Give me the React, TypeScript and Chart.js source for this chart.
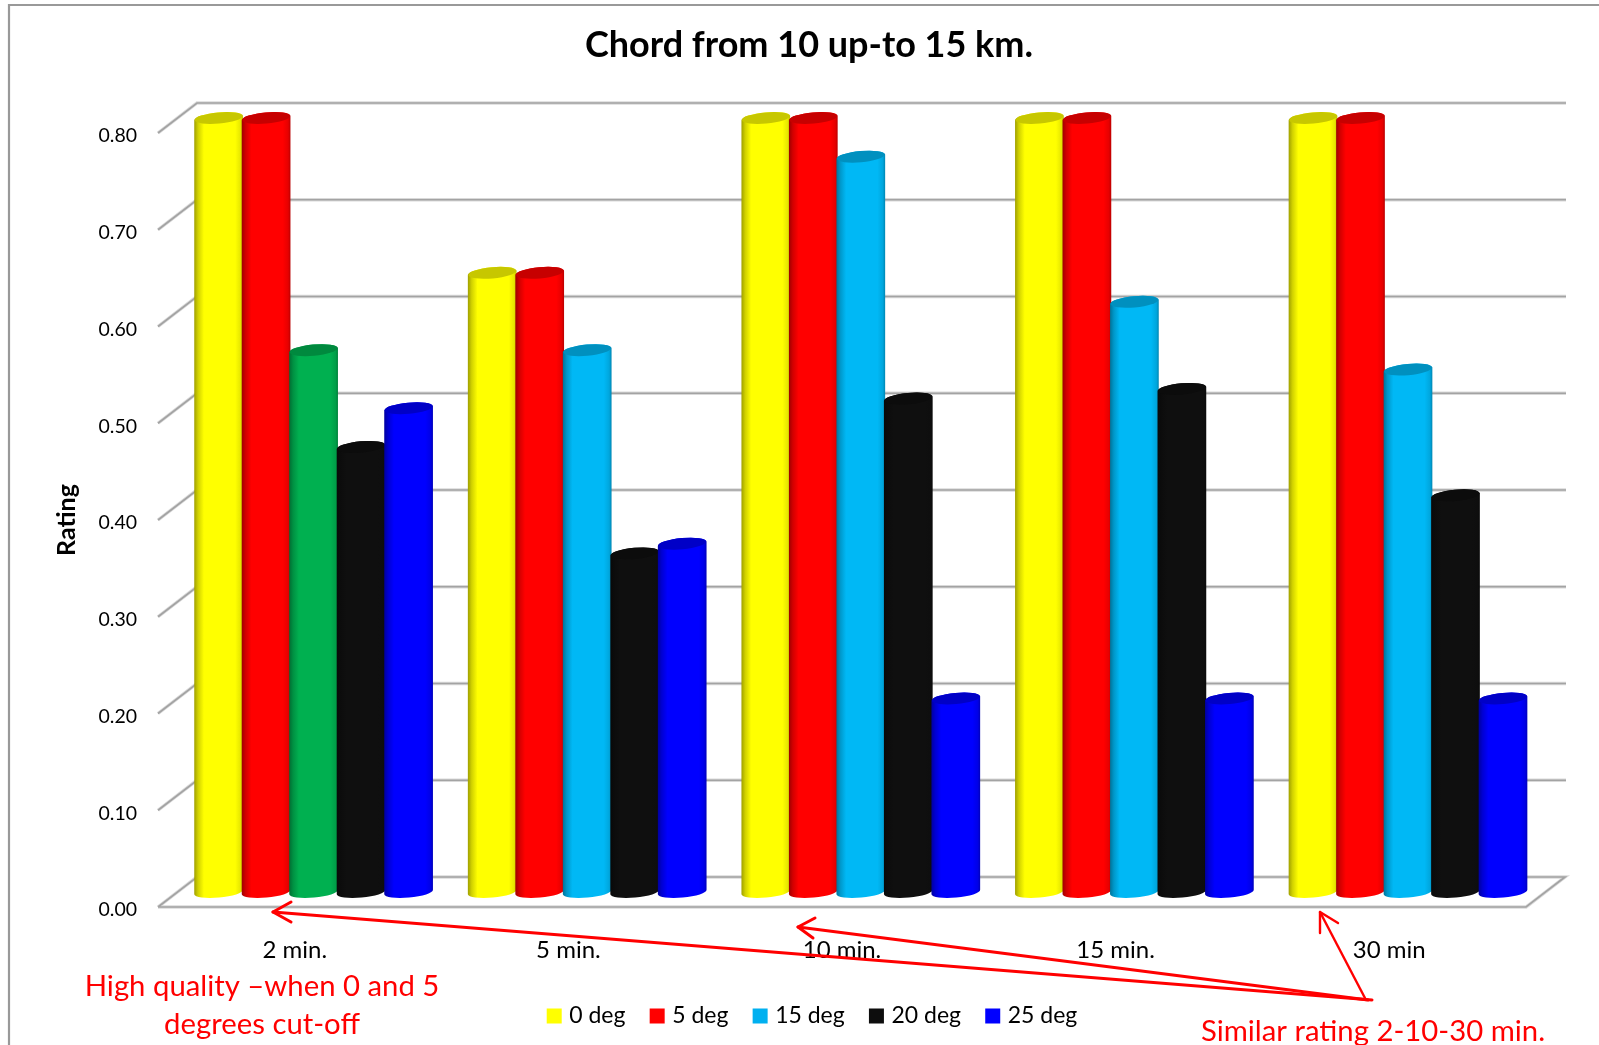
import React, { useEffect, useRef } from "react";
import { Chart, registerables } from "chart.js";

Chart.register(...registerables);

const categories = ["2 min.", "5 min.", "10 min.", "15 min.", "30 min"];
const seriesNames = ["0 deg", "5 deg", "15 deg", "20 deg", "25 deg"];
const deg0 = [0.8, 0.64, 0.8, 0.8, 0.8];
const deg5 = [0.8, 0.64, 0.8, 0.8, 0.8];
const deg15 = [0.56, 0.56, 0.76, 0.61, 0.54];
const deg20 = [0.46, 0.35, 0.51, 0.52, 0.41];
const deg25 = [0.5, 0.36, 0.2, 0.2, 0.2];
const seriesValues = [deg0, deg5, deg15, deg20, deg25];
const seriesColors = ["#ffff00", "#ff0000", "#00b8f5", "#0f0f0f", "#0000ff"];
const legendColors = ["#ffff00", "#ff0000", "#00b0f0", "#0d0d0d", "#0000ff"];
const deg15Colors = ["#00b050", "#00b8f5", "#00b8f5", "#00b8f5", "#00b8f5"];

const FONT = "Lato, 'Open Sans', sans-serif";
const DEPTH_X = 39;
const DEPTH_Y = -30;
const GRID = "#a3a3a3";
const RED = "#ff0000";

function shade(hex: string, f: number) {
  const n = parseInt(hex.slice(1), 16);
  const r = Math.round(((n >> 16) & 255) * f);
  const g = Math.round(((n >> 8) & 255) * f);
  const b = Math.round((n & 255) * f);
  return `rgb(${r},${g},${b})`;
}

function line(ctx: CanvasRenderingContext2D, pts: number[][], color: string, w: number) {
  ctx.beginPath();
  pts.forEach((p, i) => (i ? ctx.lineTo(p[0], p[1]) : ctx.moveTo(p[0], p[1])));
  ctx.strokeStyle = color;
  ctx.lineWidth = w;
  ctx.stroke();
}

function drawCylinder(ctx: CanvasRenderingContext2D, el: any, color: string) {
  const dx = DEPTH_X / 2 - 0.7;
  const dy = DEPTH_Y / 2;
  const cx = el.x + dx;
  const rx = el.width / 2 + 0.7;
  const ry = 5.6;
  const rot = -0.09;
  const top = el.y + dy;
  const bot = el.base + dy;
  const left = cx - rx;
  const grad = ctx.createLinearGradient(left, 0, left + 2 * rx, 0);
  grad.addColorStop(0, shade(color, 0.62));
  grad.addColorStop(0.08, shade(color, 0.82));
  grad.addColorStop(0.2, shade(color, 1));
  grad.addColorStop(0.84, shade(color, 1));
  grad.addColorStop(0.95, shade(color, 0.9));
  grad.addColorStop(1, shade(color, 0.72));
  ctx.beginPath();
  ctx.ellipse(cx, bot, rx, ry, rot, Math.PI, 0, true);
  ctx.ellipse(cx, top, rx, ry, rot, 0, Math.PI, true);
  ctx.closePath();
  ctx.fillStyle = grad;
  ctx.fill();
  ctx.beginPath();
  ctx.ellipse(cx, top, rx - 0.5, ry, rot, 0, Math.PI * 2);
  ctx.fillStyle = shade(color, 0.78);
  ctx.fill();
}

function arrowHead(ctx: CanvasRenderingContext2D, a: number[], tip: number[], b: number[], w: number) {
  line(ctx, [a, tip, b], RED, w);
}

const threeD = {
  id: "threeD",
  beforeDraw(chart: any) {
    const { ctx } = chart;
    ctx.save();
    line(ctx, [[9, 1045], [9, 5], [1599, 5]], "#999999", 2.2);
    ctx.restore();
  },
  beforeDatasetsDraw(chart: any) {
    const { ctx, chartArea, scales } = chart;
    const y = scales.y;
    ctx.save();
    ctx.lineCap = "butt";
    y.ticks.forEach((t: any) => {
      const py = y.getPixelForValue(t.value);
      const bx = chartArea.left + DEPTH_X;
      const by = py + DEPTH_Y;
      const pts =
        t.value === 0
          ? [
              [chartArea.left, py],
              [bx, by],
              [chartArea.right + DEPTH_X, by],
              [chartArea.right, py],
              [chartArea.left, py],
            ]
          : [
              [chartArea.left, py],
              [bx, by],
              [chartArea.right + DEPTH_X + 1, by],
            ];
      line(ctx, pts, "rgba(170,170,170,0.45)", 3.4);
      line(ctx, pts, GRID, 1.7);
    });
    // cylinders: left to right, each overlapping its left neighbour
    chart.data.datasets.forEach((ds: any, i: number) => {
      const meta = chart.getDatasetMeta(i);
      meta.data.forEach((el: any, j: number) => {
        const c = Array.isArray(ds.backgroundColor) ? ds.backgroundColor[j] : ds.backgroundColor;
        drawCylinder(ctx, el, c);
      });
    });
    ctx.restore();
    return false;
  },
  afterLayout(chart: any) {
    const shiftT = 809 - (chart.titleBlock.left + chart.titleBlock.right) / 2;
    chart.titleBlock.left += shiftT;
    chart.titleBlock.right += shiftT;
    const shiftL = 814 - (chart.legend.left + chart.legend.right) / 2;
    chart.legend.left += shiftL;
    chart.legend.right += shiftL;
  },
  afterDraw(chart: any) {
    const { ctx } = chart;
    ctx.save();
    ctx.lineJoin = "round";
    ctx.lineCap = "round";
    // annotation leaders
    line(ctx, [[1372, 1000], [273, 912]], RED, 3);
    arrowHead(ctx, [291, 902], [273, 912], [291, 922], 3);
    line(ctx, [[1368, 1000], [798, 927]], RED, 3);
    arrowHead(ctx, [815, 918], [798, 927], [813, 938], 3);
    line(ctx, [[1366, 1000], [1320, 912]], RED, 2.4);
    arrowHead(ctx, [1320, 933], [1320, 912], [1338, 923], 2.4);
    // annotation text
    ctx.fillStyle = RED;
    ctx.textBaseline = "middle";
    ctx.textAlign = "center";
    ctx.font = `29.3px ${FONT}`;
    ctx.fillText("High quality –when 0 and 5", 262, 987);
    ctx.fillText("degrees cut-off", 262, 1025);
    ctx.fillText("Similar rating 2-10-30 min.", 1373, 1032);
    ctx.restore();
  },
};

export default function App() {
  const ref = useRef<HTMLCanvasElement>(null);
  useEffect(() => {
    document.body.style.margin = "0";
    document.body.style.background = "#ffffff";
    const chart = new Chart(ref.current as HTMLCanvasElement, {
      type: "bar",
      data: {
        labels: categories,
        datasets: seriesNames.map((label, i) => ({
          label,
          data: seriesValues[i],
          backgroundColor: i === 2 ? deg15Colors : seriesColors[i],
          barPercentage: 1,
          categoryPercentage: 0.868,
        })),
      },
      options: {
        responsive: false,
        animation: false,
        devicePixelRatio: 1,
        layout: { padding: { left: 50, right: 73, top: 24, bottom: 7.5 } },
        plugins: {
          tooltip: { enabled: false },
          title: {
            display: true,
            text: "Chord from 10 up-to 15 km.",
            color: "#000000",
            font: { family: FONT, size: 36, weight: "bold" },
            padding: { top: 0, bottom: 65.8 },
          },
          legend: {
            display: true,
            position: "bottom",
            labels: {
              color: "#000000",
              font: { family: FONT, size: 23 },
              boxWidth: 7,
              boxHeight: 7,
              padding: 28.25,
              generateLabels: () =>
                seriesNames.map((text, i) => ({
                  text,
                  fillStyle: legendColors[i],
                  strokeStyle: legendColors[i],
                  lineWidth: 8,
                  fontColor: "#000000",
                  datasetIndex: i,
                })),
            },
          },
        },
        scales: {
          x: {
            grid: { display: false, drawTicks: false },
            border: { display: false },
            ticks: { color: "#000000", font: { family: FONT, size: 24 }, padding: 29, maxRotation: 0 },
            afterFit: (s: any) => {
              s.height = 69.25;
            },
          },
          y: {
            min: 0,
            max: 0.8,
            grid: { display: false, drawTicks: false },
            border: { display: false },
            ticks: {
              stepSize: 0.1,
              color: "#000000",
              font: { family: FONT, size: 19.5 },
              padding: 21,
              labelOffset: 3,
              callback: (v: any) => Number(v).toFixed(2),
            },
            title: {
              display: true,
              text: "Rating",
              color: "#000000",
              font: { family: FONT, size: 25, weight: "bold" },
              padding: { top: 2, bottom: 0 },
            },
            afterFit: (s: any) => {
              s.width = 108;
            },
          },
        },
      },
      plugins: [threeD],
    } as any);
    return () => chart.destroy();
  }, []);
  return (
    <canvas
      ref={ref}
      width={1599}
      height={1045}
      style={{ display: "block", position: "absolute", left: 0, top: 0, width: 1599, height: 1045 }}
    />
  );
}
